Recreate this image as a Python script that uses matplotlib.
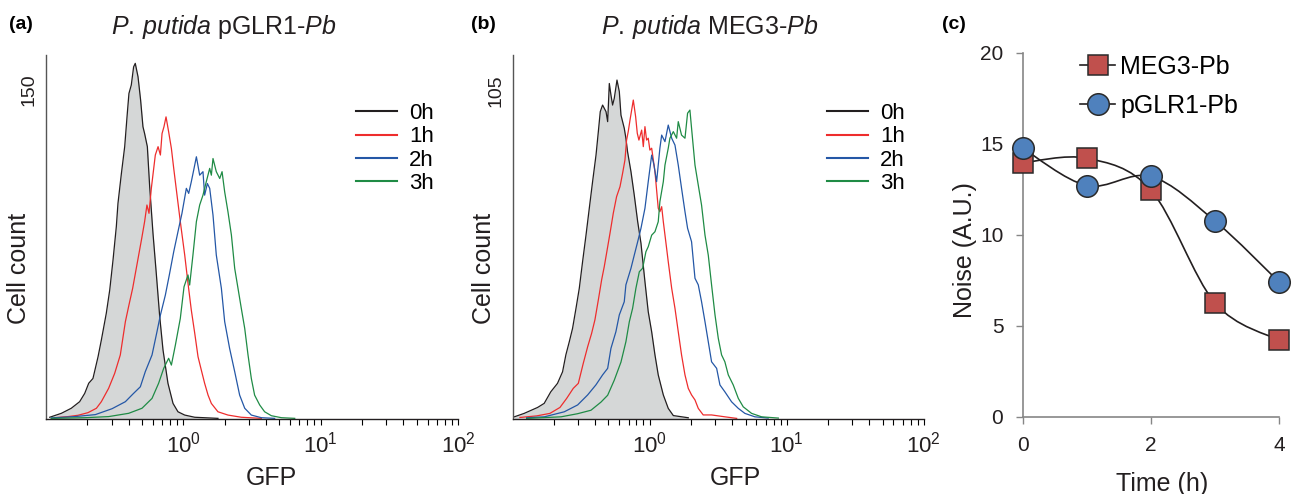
import numpy as np
import matplotlib.pyplot as plt
from matplotlib.path import Path
from matplotlib.patches import PathPatch
from matplotlib.lines import Line2D
from matplotlib.ticker import LogLocator, NullFormatter

plt.rcParams['font.family'] = ['Liberation Sans', 'DejaVu Sans']
plt.rcParams['mathtext.fontset'] = 'custom'
plt.rcParams['mathtext.rm'] = 'Liberation Sans'
plt.rcParams['mathtext.it'] = 'Liberation Sans:italic'
plt.rcParams['mathtext.bf'] = 'Liberation Sans:bold'

# ---- (a) P. putida pGLR1-Pb : log10(GFP) channel and cell count ----
loggfp_a_0h = [-0.973, -0.888, -0.816, -0.755, -0.718, -0.689, -0.658, -0.621, -0.597, -0.561,
               -0.536, -0.512, -0.488, -0.476, -0.451, -0.427, -0.408, -0.396, -0.379, -0.362,
               -0.350, -0.330, -0.311, -0.294, -0.282, -0.262, -0.245, -0.221, -0.197, -0.172,
               -0.148, -0.112, -0.075, -0.039, 0.010, 0.083, 0.252]
cells_a_0h = [0.8, 2.6, 4.9, 7.9, 11.7, 16.3, 18.5, 28.4, 36.0, 48.2,
              58.8, 72.5, 87.7, 98.3, 112.0, 124.2, 139.4, 148.5, 152.3, 160.6,
              162.2, 156.1, 145.4, 133.3, 130.2, 124.2, 105.9, 84.7, 66.4, 46.7,
              31.5, 16.3, 7.1, 3.3, 1.8, 0.8, 0.3]

loggfp_a_1h = [-0.937, -0.840, -0.767, -0.694, -0.633, -0.597, -0.544, -0.500, -0.459, -0.422,
               -0.396, -0.369, -0.347, -0.325, -0.303, -0.282, -0.265, -0.250, -0.233, -0.204,
               -0.184, -0.167, -0.155, -0.141, -0.126, -0.107, -0.087, -0.070, -0.046, -0.022,
               0.010, 0.034, 0.058, 0.083, 0.107, 0.131, 0.155, 0.180, 0.204, 0.252,
               0.325, 0.422, 0.568]
cells_a_1h = [0.6, 1.1, 1.7, 2.9, 4.9, 7.9, 14.0, 20.8, 29.2, 44.4,
              52.0, 59.6, 67.2, 74.8, 82.4, 90.0, 97.6, 93.8, 105.2, 120.4,
              124.2, 120.4, 130.2, 133.3, 137.8, 131.0, 123.4, 114.3, 102.1, 90.0,
              74.8, 61.9, 49.7, 39.1, 28.4, 22.3, 16.3, 10.9, 7.1, 3.3,
              1.8, 0.8, 0.3]

loggfp_a_2h = [-0.961, -0.791, -0.641, -0.519, -0.422, -0.367, -0.313, -0.277, -0.228, -0.192,
               -0.167, -0.131, -0.102, -0.070, -0.034, -0.010, 0.022, 0.039, 0.058, 0.078,
               0.095, 0.119, 0.143, 0.155, 0.175, 0.192, 0.216, 0.240, 0.277, 0.301,
               0.337, 0.374, 0.410, 0.447, 0.495, 0.568, 0.665]
cells_a_2h = [0.5, 1.1, 2.0, 4.7, 7.9, 11.4, 14.7, 21.6, 29.2, 39.8,
              47.4, 56.5, 65.7, 76.3, 86.9, 93.8, 105.2, 102.9, 108.2, 114.3,
              119.6, 111.2, 112.8, 102.1, 107.4, 105.2, 93.0, 74.8, 59.6, 44.4,
              32.2, 21.6, 10.9, 4.9, 1.8, 0.6, 0.3]

loggfp_a_3h = [-0.961, -0.718, -0.544, -0.398, -0.301, -0.228, -0.180, -0.143, -0.107, -0.087,
               -0.058, -0.022, 0.005, 0.034, 0.046, 0.070, 0.095, 0.119, 0.143, 0.167,
               0.192, 0.204, 0.216, 0.240, 0.265, 0.282, 0.301, 0.325, 0.350, 0.374,
               0.398, 0.422, 0.447, 0.471, 0.495, 0.519, 0.556, 0.592, 0.641, 0.714,
               0.811]
cells_a_3h = [0.3, 0.6, 1.1, 2.6, 4.9, 9.4, 16.3, 23.1, 27.7, 24.6,
              33.7, 45.9, 60.3, 65.7, 61.1, 74.8, 90.0, 97.6, 102.1, 108.2,
              114.3, 111.2, 118.8, 112.8, 109.7, 112.8, 103.6, 94.5, 83.9, 68.7,
              59.6, 50.5, 41.3, 29.2, 18.5, 10.9, 6.4, 3.3, 1.5, 0.6,
              0.3]

# ---- (b) P. putida MEG3-Pb ----
loggfp_b_0h = [-0.988, -0.916, -0.818, -0.770, -0.722, -0.673, -0.636, -0.612, -0.587, -0.563,
               -0.538, -0.514, -0.490, -0.465, -0.441, -0.417, -0.392, -0.375, -0.361, -0.344,
               -0.319, -0.307, -0.295, -0.283, -0.271, -0.259, -0.239, -0.222, -0.210, -0.186,
               -0.174, -0.162, -0.137, -0.113, -0.088, -0.064, -0.035, -0.011, 0.014, 0.038,
               0.062, 0.099, 0.135, 0.172, 0.281]
cells_b_0h = [0.7, 1.8, 3.7, 5.0, 8.7, 11.4, 15.1, 20.5, 24.7, 29.0,
              35.4, 41.8, 50.3, 58.8, 67.4, 75.9, 84.4, 91.9, 98.3, 100.4,
              98.3, 95.1, 107.3, 103.6, 100.4, 102.5, 108.4, 104.7, 97.2, 93.0,
              89.8, 85.5, 79.1, 71.6, 63.1, 56.2, 43.9, 34.3, 27.9, 20.5,
              14.1, 7.7, 3.4, 1.1, 0.4]

loggfp_b_1h = [-0.947, -0.825, -0.728, -0.655, -0.606, -0.558, -0.521, -0.485, -0.453, -0.424,
               -0.400, -0.375, -0.351, -0.332, -0.315, -0.290, -0.266, -0.242, -0.217, -0.198,
               -0.181, -0.169, -0.157, -0.144, -0.132, -0.120, -0.103, -0.091, -0.079, -0.059,
               -0.047, -0.035, -0.023, -0.011, 0.001, 0.014, 0.038, 0.062, 0.074, 0.087,
               0.099, 0.123, 0.135, 0.160, 0.184, 0.208, 0.232, 0.257, 0.281, 0.305,
               0.330, 0.354, 0.390, 0.451, 0.548, 0.634]
cells_b_1h = [0.5, 1.0, 1.8, 3.7, 6.6, 9.8, 11.4, 17.8, 23.1, 27.4,
              31.7, 38.1, 44.5, 48.7, 53.0, 59.4, 65.8, 71.1, 74.3, 78.6,
              82.8, 89.2, 91.9, 95.6, 98.8, 102.0, 96.7, 91.4, 89.2, 92.4,
              87.1, 93.5, 89.2, 89.8, 86.0, 86.6, 79.1, 67.4, 66.3, 67.9,
              63.1, 54.6, 50.3, 41.8, 35.4, 27.9, 20.5, 14.1, 9.8, 7.7,
              6.1, 3.4, 1.3, 1.3, 0.7, 0.2]

loggfp_b_2h = [-0.898, -0.769, -0.624, -0.526, -0.453, -0.393, -0.344, -0.307, -0.283, -0.247,
               -0.222, -0.186, -0.174, -0.137, -0.113, -0.088, -0.064, -0.035, -0.011, 0.014,
               0.031, 0.050, 0.074, 0.087, 0.111, 0.135, 0.160, 0.184, 0.208, 0.232,
               0.257, 0.276, 0.305, 0.330, 0.354, 0.378, 0.403, 0.427, 0.451, 0.488,
               0.512, 0.548, 0.597, 0.646, 0.694, 0.767, 0.864]
cells_b_2h = [0.4, 0.7, 2.3, 4.5, 7.7, 10.9, 14.1, 16.2, 22.6, 27.9,
              33.3, 37.5, 42.9, 48.2, 52.4, 56.7, 61.0, 67.4, 75.9, 84.4,
              81.2, 75.9, 86.6, 90.8, 88.7, 94.0, 89.8, 87.6, 81.2, 73.8,
              66.3, 61.0, 56.7, 45.0, 42.9, 37.5, 31.1, 24.7, 18.3, 16.2,
              10.9, 8.7, 5.5, 3.4, 1.8, 0.7, 0.3]

loggfp_b_3h = [-0.898, -0.647, -0.526, -0.429, -0.356, -0.307, -0.259, -0.210, -0.174, -0.149,
               -0.125, -0.101, -0.076, -0.052, -0.028, -0.011, 0.014, 0.038, 0.062, 0.074,
               0.099, 0.111, 0.135, 0.147, 0.172, 0.196, 0.208, 0.232, 0.257, 0.276,
               0.293, 0.305, 0.330, 0.354, 0.378, 0.403, 0.427, 0.451, 0.476, 0.500,
               0.524, 0.548, 0.573, 0.609, 0.646, 0.682, 0.743, 0.816, 0.938]
cells_b_3h = [0.2, 0.7, 1.7, 2.8, 5.4, 7.6, 12.4, 18.2, 24.7, 31.1,
              35.4, 41.8, 47.1, 48.2, 53.5, 55.1, 58.8, 59.9, 63.1, 69.5,
              75.9, 81.2, 86.6, 89.8, 91.9, 89.8, 95.1, 90.8, 89.8, 97.8,
              98.8, 93.0, 81.2, 74.8, 68.4, 58.8, 52.4, 42.9, 33.3, 25.8,
              20.5, 18.3, 14.1, 10.9, 6.6, 3.9, 1.8, 0.7, 0.3]

time_labels = ['0h', '1h', '2h', '3h']

# ---- (c) noise over time ----
time_h = [0, 1, 2, 3, 4]
noise_meg3 = [13.95, 14.2, 12.45, 6.25, 4.2]
noise_pglr1 = [14.75, 12.7, 13.2, 10.75, 7.4]

line_colors = ['#231f20', '#ee2d2d', '#2457a6', '#1f8b45']
fill_color = '#d5d7d7'


def smooth_path(xs, ys):
    # Excel-like smoothed line: cubic Bezier segments through the points
    pts = np.column_stack([xs, ys]).astype(float)
    n = len(pts)
    verts = [pts[0]]
    codes = [Path.MOVETO]
    for i in range(n - 1):
        p0 = pts[max(i - 1, 0)]
        p1 = pts[i]
        p2 = pts[i + 1]
        p3 = pts[min(i + 2, n - 1)]
        verts += [p1 + (p2 - p0) / 6, p2 - (p3 - p1) / 6, p2]
        codes += [Path.CURVE4] * 3
    return Path(verts, codes)


def histo_panel(ax, curves, ytop, ytick, xlab_x, ylab_x, leg_x):
    x0 = 10 ** np.array(curves[0][0])
    ax.fill_between(x0, curves[0][1], 0, color=fill_color, lw=0, zorder=1)
    for (lg, cnt), col, lab in zip(curves, line_colors, time_labels):
        ax.plot(10 ** np.array(lg), cnt, color=col, lw=0.9, label=lab, zorder=2)
    ax.set_xscale('log')
    ax.set_xlim(0.1, 100)
    ax.set_ylim(0, ytop)
    ax.set_xticks([1, 10, 100])
    ax.set_xticklabels([r'$10^0$', r'$10^1$', r'$10^2$'], fontsize=16, color='#231f20')
    ax.xaxis.set_minor_locator(LogLocator(base=10, subs=np.arange(2, 10)))
    ax.xaxis.set_minor_formatter(NullFormatter())
    ax.tick_params(axis='x', which='both', direction='out', length=4, width=0.8, pad=5)
    ax.set_yticks([ytick])
    ax.set_yticklabels([str(ytick)], rotation=90, va='center', fontsize=14, color='#231f20')
    ax.tick_params(axis='y', length=0, pad=6)
    for s in ['top', 'right']:
        ax.spines[s].set_visible(False)
    ax.spines['left'].set_color('#555555')
    ax.spines['bottom'].set_color('#231f20')
    ax.spines['left'].set_linewidth(1.0)
    ax.spines['bottom'].set_linewidth(1.0)
    ax.set_xlabel('GFP', fontsize=18, color='#231f20')
    ax.xaxis.set_label_coords(xlab_x, -0.128)
    ax.set_ylabel('Cell count', fontsize=18, color='#231f20')
    ax.yaxis.set_label_coords(ylab_x, 0.415)
    leg = ax.legend(loc='upper left', bbox_to_anchor=(leg_x, 0.868), frameon=False,
                    fontsize=16, handlelength=1.85, handletextpad=0.54, labelspacing=0.1,
                    borderpad=0, borderaxespad=0)
    for h in leg.get_lines():
        h.set_linewidth(1.5)


fig = plt.figure(figsize=(12.92, 4.94), dpi=100)
ax_a = fig.add_axes([0.0356, 0.1518, 0.3189, 0.7368])
ax_b = fig.add_axes([0.3968, 0.1518, 0.3183, 0.7368])
ax_c = fig.add_axes([0.7916, 0.1565, 0.1984, 0.7368])

histo_panel(ax_a, [(loggfp_a_0h, cells_a_0h), (loggfp_a_1h, cells_a_1h),
                   (loggfp_a_2h, cells_a_2h), (loggfp_a_3h, cells_a_3h)],
            166, 150, 0.546, -0.037, 0.752)
histo_panel(ax_b, [(loggfp_b_0h, cells_b_0h), (loggfp_b_1h, cells_b_1h),
                   (loggfp_b_2h, cells_b_2h), (loggfp_b_3h, cells_b_3h)],
            116.4, 105, 0.5425, -0.041, 0.764)

# ---- panel (c) ----
meg3_col = '#c0504d'
pglr1_col = '#4f81bd'
edge_col = '#2a2a2a'
ax_c.add_patch(PathPatch(smooth_path(time_h, noise_meg3), fill=False, ec='#231f20', lw=1.2, zorder=2,
                         clip_on=False))
ax_c.add_patch(PathPatch(smooth_path(time_h, noise_pglr1), fill=False, ec='#231f20', lw=1.2, zorder=2,
                         clip_on=False))
ax_c.plot(time_h, noise_meg3, ls='none', marker='s', ms=14.5, mfc=meg3_col, mec=edge_col, mew=1.1,
          zorder=3, clip_on=False)
ax_c.plot(time_h, noise_pglr1, ls='none', marker='o', ms=15.5, mfc=pglr1_col, mec=edge_col, mew=1.1,
          zorder=4, clip_on=False)
ax_c.set_xlim(0, 4)
ax_c.set_ylim(0, 20)
ax_c.set_xticks([0, 2, 4])
ax_c.set_yticks([0, 5, 10, 15, 20])
ax_c.tick_params(axis='both', direction='out', length=5, width=1.0, color='#868686',
                 labelsize=15, labelcolor='#231f20', pad=9)
for s in ['top', 'right']:
    ax_c.spines[s].set_visible(False)
for s in ['left', 'bottom']:
    ax_c.spines[s].set_color('#868686')
    ax_c.spines[s].set_linewidth(1.2)
ax_c.set_xlabel('Time (h)', fontsize=18, color='#231f20')
ax_c.xaxis.set_label_coords(0.543, -0.151)
ax_c.set_ylabel('Noise (A.U.)', fontsize=18, color='#231f20')
ax_c.yaxis.set_label_coords(-0.178, 0.458)
handles = [Line2D([], [], color='#231f20', lw=1.2, marker='s', ms=14.5, mfc=meg3_col, mec=edge_col, mew=1.1),
           Line2D([], [], color='#231f20', lw=1.2, marker='o', ms=15.5, mfc=pglr1_col, mec=edge_col, mew=1.1)]
ax_c.legend(handles, ['MEG3-Pb', 'pGLR1-Pb'], loc='upper left', bbox_to_anchor=(0.224, 0.995),
            frameon=False, fontsize=18, handlelength=1.4, handletextpad=0.2, labelspacing=0.62,
            borderpad=0, borderaxespad=0)

# panel letters and titles
fig.text(0.0159, 0.951, '(a)', fontsize=14, fontweight='bold', ha='center', va='center')
fig.text(0.3741, 0.951, '(b)', fontsize=14, fontweight='bold', ha='center', va='center')
fig.text(0.7385, 0.951, '(c)', fontsize=14, fontweight='bold', ha='center', va='center')
fig.text(0.1734, 0.9305, r'$\it{P.}\,\it{putida}$ pGLR1-$\it{Pb}$', fontsize=18, ha='center',
         va='baseline', color='#231f20')
fig.text(0.5495, 0.9305, r'$\it{P.}\,\it{putida}$ MEG3-$\it{Pb}$', fontsize=18, ha='center',
         va='baseline', color='#231f20')

fig.savefig('out.png', dpi=100)
